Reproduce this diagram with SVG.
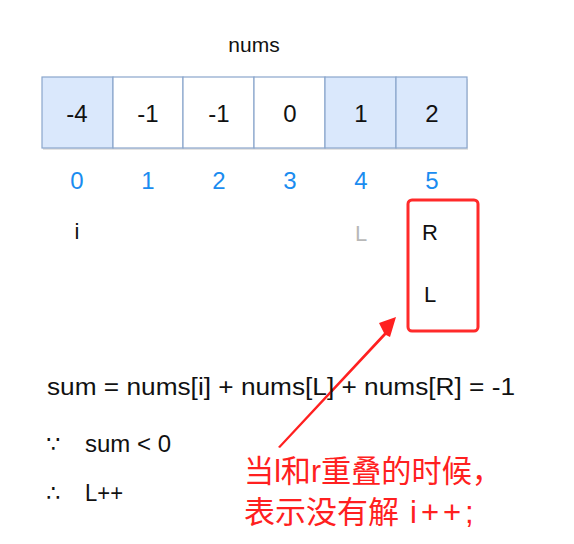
<svg xmlns="http://www.w3.org/2000/svg" width="574" height="544" viewBox="0 0 574 544">
<style>
.cell{stroke:#8aa6cc;stroke-width:1.2}
.blue{fill:#dae8fc}
.white{fill:#ffffff}
.t{font-family:"Liberation Sans","DejaVu Sans",sans-serif;fill:#111}
.v{font-size:24px;text-anchor:middle}
.idx{font-family:"Liberation Sans","DejaVu Sans",sans-serif;font-size:24px;fill:#1a8cf0;text-anchor:middle}
.ptr{font-size:22px;text-anchor:middle}
.note{font-family:"Liberation Sans","Noto Sans CJK SC",sans-serif;font-size:31px;fill:#ff2020}
</style>
<rect width="574" height="544" fill="#ffffff"/>
<text class="t" x="254" y="52" font-size="21" text-anchor="middle">nums</text>
<g id="array">
<rect x="43" y="79" width="425" height="71" fill="#c8c8c8" opacity="0.5"/>
<g id="cell0"><rect class="cell blue" x="42" y="77" width="71" height="71"/><text class="t v" x="77" y="122">-4</text></g>
<g id="cell1"><rect class="cell white" x="113" y="77" width="70" height="71"/><text class="t v" x="148" y="122">-1</text></g>
<g id="cell2"><rect class="cell white" x="183" y="77" width="71" height="71"/><text class="t v" x="219" y="122">-1</text></g>
<g id="cell3"><rect class="cell white" x="254" y="77" width="71" height="71"/><text class="t v" x="290" y="122">0</text></g>
<g id="cell4"><rect class="cell blue" x="325" y="77" width="71" height="71"/><text class="t v" x="361" y="122">1</text></g>
<g id="cell5"><rect class="cell blue" x="396" y="77" width="71" height="71"/><text class="t v" x="432" y="122">2</text></g>
</g>
<g id="indices">
<text class="idx" x="77" y="189">0</text>
<text class="idx" x="148" y="189">1</text>
<text class="idx" x="219" y="189">2</text>
<text class="idx" x="290" y="189">3</text>
<text class="idx" x="361" y="189">4</text>
<text class="idx" x="432" y="189">5</text>
</g>
<g id="pointers">
<text class="t ptr" x="77" y="239">i</text>
<text class="t ptr" x="361" y="241" style="fill:#b8b8b8">L</text>
<text class="t ptr" x="430" y="240">R</text>
<text class="t ptr" x="430" y="302">L</text>
</g>
<g id="highlight">
<rect x="408" y="200" width="70" height="131" rx="4" fill="none" stroke="#ff2a2a" stroke-width="3"/>
</g>
<g id="connectors">
<polygon points="278,447 384,333 379,323 396,317 390,337 386,335 280,448" fill="#ff2020"/>
</g>
<g id="formulas">
<text class="t" x="47" y="395" font-size="23" textLength="468" lengthAdjust="spacingAndGlyphs">sum = nums[i] + nums[L] + nums[R] = -1</text>
<text class="t" x="46" y="452" font-size="23">∵</text>
<text class="t" x="85" y="452" font-size="23" textLength="86" lengthAdjust="spacingAndGlyphs">sum &lt; 0</text>
<text class="t" x="46" y="501" font-size="23">∴</text>
<text class="t" x="85" y="501" font-size="23" textLength="38" lengthAdjust="spacingAndGlyphs">L++</text>
</g>
<g id="note">
<text class="note" x="244" y="482" textLength="258" lengthAdjust="spacingAndGlyphs">当l和r重叠的时候，</text>
<text class="note" x="244" y="523">表示没有解 <tspan x="410" letter-spacing="4">i++;</tspan></text>
</g>
</svg>
